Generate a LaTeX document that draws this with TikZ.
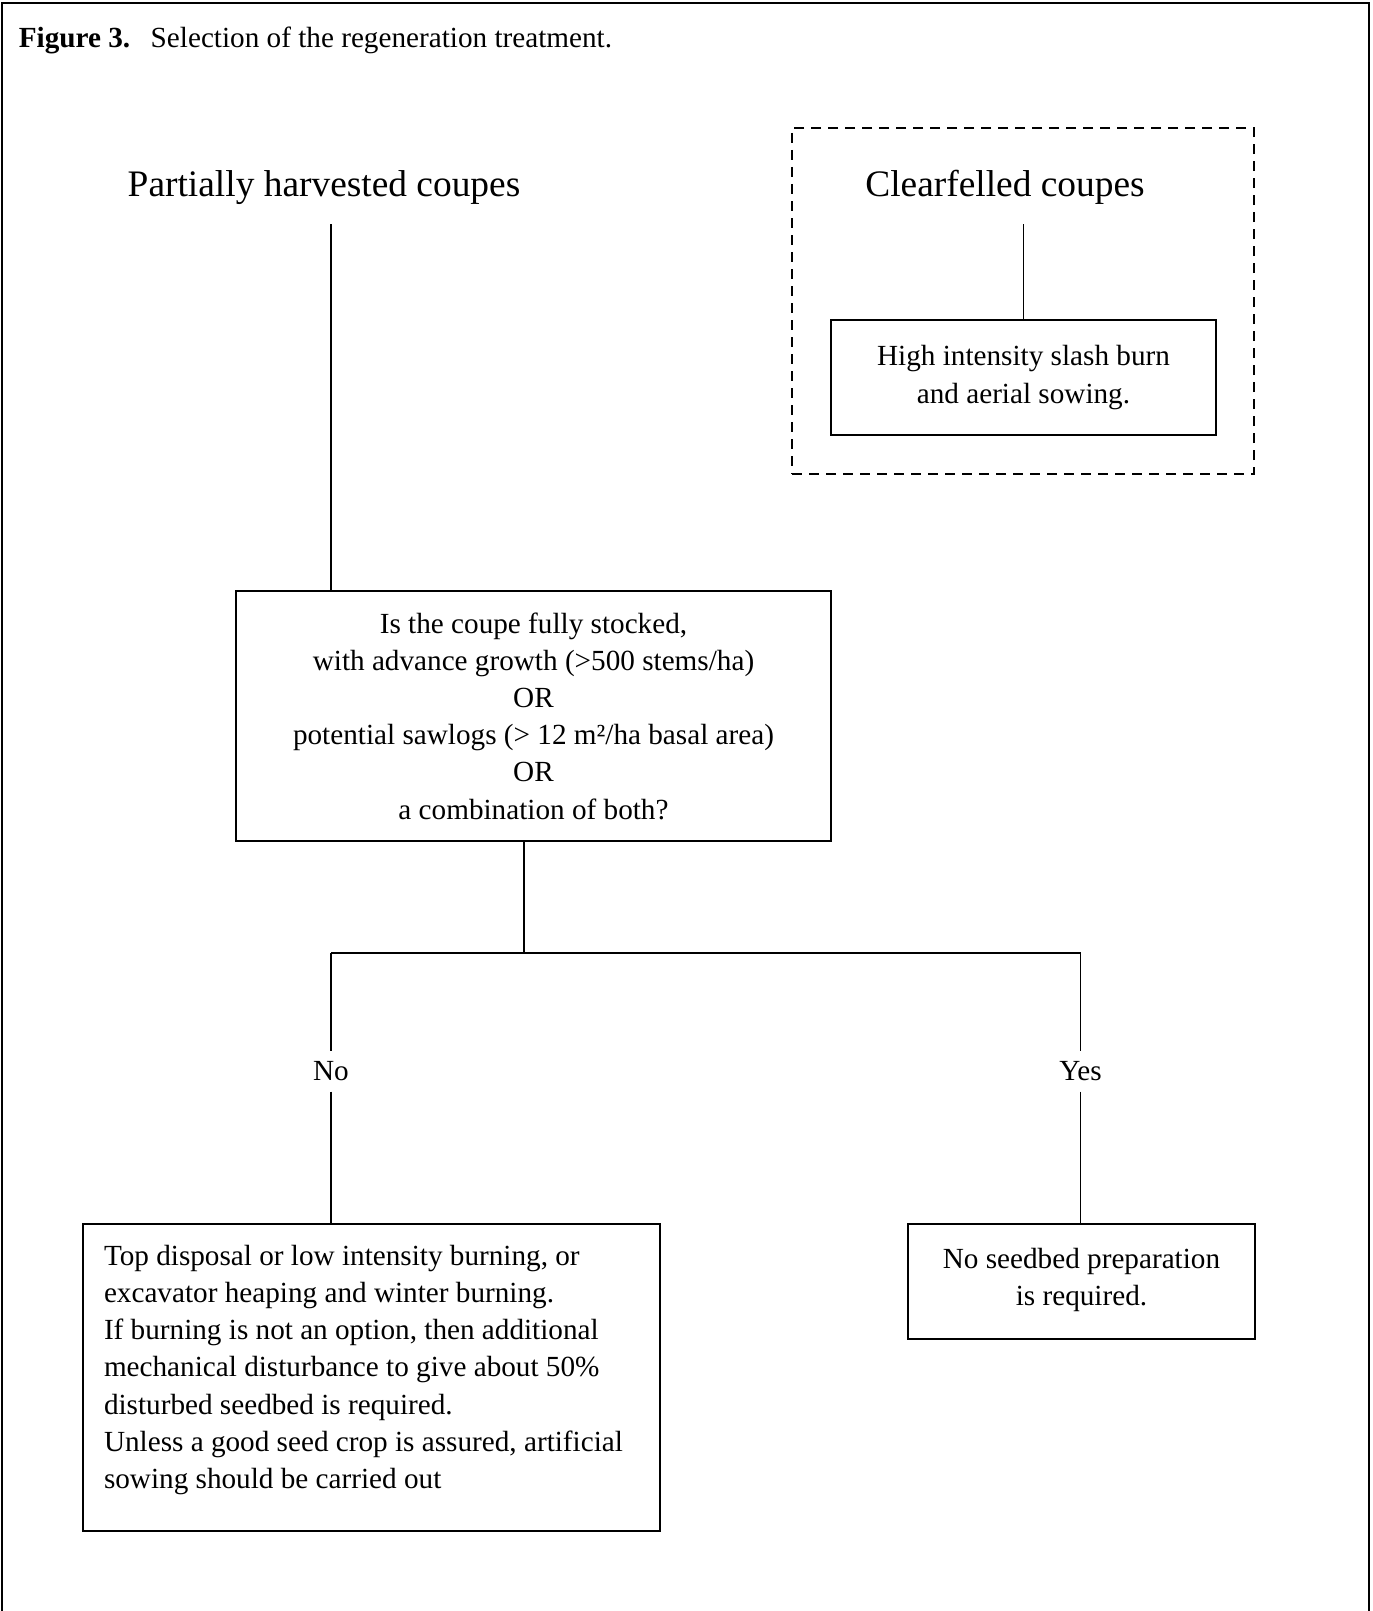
\documentclass[tikz,border=0pt]{standalone}
\usepackage{fontspec}
\setmainfont{Liberation Serif}
\begin{document}
\begin{tikzpicture}[x=0.5pt,y=-0.5pt,
  every node/.style={font=\fontsize{14.6}{18.6}\selectfont},
  boxnode/.style={draw,line width=1pt,rectangle,inner sep=0pt,align=center},
  bigtitle/.style={font=\fontsize{18.7}{22}\selectfont,inner sep=0pt},
  conn/.style={line width=0.9pt},
  labelnode/.style={inner xsep=2pt,inner ysep=5pt}]
\useasboundingbox (0,0) rectangle (1372,1611);
% outer frame (open at the bottom)
\draw[line width=1pt] (2,1611) -- (2,3) -- (1369,3) -- (1369,1611);
% caption
\node[anchor=base west,inner sep=0pt] (caption) at (18.5,48) {\textbf{Figure 3.}\hspace{0.7em}Selection of the regeneration treatment.};
% headings
\node[bigtitle,anchor=base] (partial) at (324,196) {Partially harvested coupes};
\node[bigtitle,anchor=base] (clear) at (1005,196) {Clearfelled coupes};
% dashed group
\node[draw,dash pattern=on 5pt off 3.5pt,line width=0.8pt,minimum width=231pt,minimum height=173pt,inner sep=0pt] (cfgroup) at (1023,301) {};
% boxes
\node[boxnode,minimum width=192.5pt,minimum height=57.5pt] (slash) at (1023.5,377.5) {High intensity slash burn\\and aerial sowing.};
\node[boxnode,minimum width=297.5pt,minimum height=125pt] (question) at (533.5,716) {Is the coupe fully stocked,\\with advance growth (>500 stems/ha)\\OR\\potential sawlogs (> 12 m²/ha basal area)\\OR\\a combination of both?};
\node[draw,line width=1pt,rectangle,anchor=north west,inner xsep=10.5pt,inner ysep=0pt] (notreat) at (82,1223)
  {\parbox[c][153.5pt][t]{267.5pt}{\raggedright\vspace*{10.5pt}Top disposal or low intensity burning, or\\excavator heaping and winter burning.\\If burning is not an option, then additional\\mechanical disturbance to give about 50\%\\disturbed seedbed is required.\\Unless a good seed crop is assured, artificial\\sowing should be carried out}};
\node[draw,line width=1pt,rectangle,anchor=north west,inner sep=0pt] (noprep) at (907,1223)
  {\parbox[c][57.5pt][t]{173.5pt}{\centering\vspace*{12pt}No seedbed preparation\\is required.}};
% labels
\node[labelnode] (no) at (331,1071.5) {No};
\node[labelnode] (yes) at (1080.5,1071.5) {Yes};
% connector points
\coordinate (ptop) at (331,224);
\coordinate (ctop) at (1023.5,224);
\coordinate (split) at (524,953);
\coordinate (splitL) at (331,953);
\coordinate (splitR) at (1080.5,953);
% connectors
\draw[conn] (ptop) -- (ptop |- question.north);
\draw[conn] (ctop) -- (slash.north);
\draw[conn] (split |- question.south) -- (split);
\draw[conn] (splitL) -- (splitR);
\draw[conn] (splitL) -- (no);
\draw[conn] (no) -- (no |- notreat.north);
\draw[conn] (splitR) -- (yes);
\draw[conn] (yes) -- (yes |- noprep.north);
\end{tikzpicture}
\end{document}
